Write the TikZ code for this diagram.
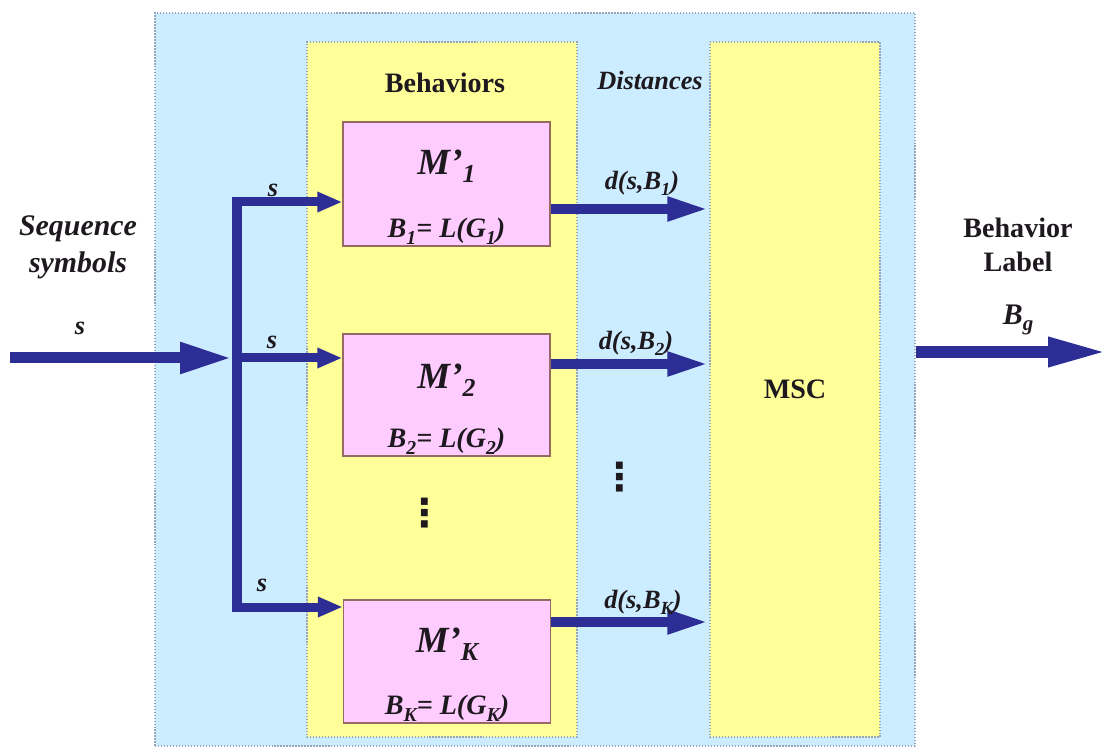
\documentclass[tikz,border=0pt]{standalone}
\usepackage{fontspec}
\setmainfont{Liberation Serif}
\newfontfamily\symfont{DejaVu Sans}
\usetikzlibrary{arrows.meta, positioning, calc}
\usepackage{xcolor}

\definecolor{sysblue}{RGB}{204,236,255}
\definecolor{behyellow}{RGB}{255,255,153}
\definecolor{modpink}{RGB}{255,204,255}
\definecolor{flowblue}{RGB}{45,45,150}
\definecolor{edgegray}{RGB}{150,165,185}
\definecolor{pinkedge}{RGB}{150,105,100}
\definecolor{ink}{RGB}{30,25,30}
\newcommand{\dn}[1]{\raisebox{-0.5ex}{\scalebox{0.7}{#1}}}

\begin{document}
\begin{tikzpicture}[
  x=0.2mm, y=-0.2mm,
  panel/.style={rectangle, draw=edgegray, densely dotted, line width=0.7pt, inner sep=0pt},
  modbox/.style={rectangle, draw=pinkedge, fill=modpink, line width=0.8pt,
    minimum width=41.4mm, inner sep=0pt},
  modname/.style={anchor=base, text=ink, font=\fontsize{21}{21}\selectfont\bfseries\itshape},
  modlang/.style={anchor=base, text=ink, font=\fontsize{16}{16}\selectfont\bfseries\itshape},
  head/.style={text=ink, align=center, font=\fontsize{16}{19.5}\selectfont\bfseries},
  tag/.style={text=ink, font=\fontsize{15}{15}\selectfont\bfseries\itshape},
  more/.style={text=ink, inner sep=0pt, font=\fontsize{22}{22}\selectfont\symfont\bfseries},
  bus/.style={draw=flowblue, line width=2mm, line cap=rect},
  feed/.style={draw=flowblue, line width=2.2mm, -{Triangle[length=10.4mm, width=5.8mm]}},
  branch/.style={draw=flowblue, line width=1.8mm, -{Triangle[length=5mm, width=3.8mm]}},
  dist/.style={draw=flowblue, line width=2mm, -{Triangle[length=8.4mm, width=4.4mm]}},
  result/.style={draw=flowblue, line width=2.4mm, -{Triangle[length=12mm, width=5.4mm]}}
]
  \useasboundingbox (0,0) rectangle (1110,752);

  % panels
  \node[panel, fill=sysblue, minimum width=152mm, minimum height=146.6mm] (sys) at (535,379.5) {};
  \node[panel, fill=behyellow, minimum width=54mm, minimum height=139mm] (beh) at (442,389.5) {};
  \node[panel, fill=behyellow, minimum width=34mm, minimum height=139mm,
    font=\fontsize{16}{16}\selectfont\bfseries, text=ink] (msc) at (795,389.5) {\raisebox{-1.4ex}{MSC}};

  % behavior models
  \node[modbox, minimum height=24.8mm] (m1) at (446.5,184) {};
  \node[modbox, minimum height=24.4mm] (m2) at (446.5,395) {};
  \node[modbox, minimum height=24.6mm] (mK) at (447,661.5) {};
  \node[modname] at ($(m1.north)+(0,53)$) {M’\dn{1}};
  \node[modlang] at ($(m1.south)+(0,-9)$) {B\dn{1}= L(G\dn{1})};
  \node[modname] at ($(m2.north)+(0,55)$) {M’\dn{2}};
  \node[modlang] at ($(m2.south)+(0,-9)$) {B\dn{2}= L(G\dn{2})};
  \node[modname] at ($(mK.north)+(0,53)$) {M’\dn{K}};
  \node[modlang] at ($(mK.south)+(0,-9)$) {B\dn{K}= L(G\dn{K})};

  % headers
  \node[head] (behlbl) at (445,83) {Behaviors};
  \node[head, font=\fontsize{15}{15}\selectfont\bfseries\itshape] (distlbl) at (650,80) {Distances};
  \node[head, font=\fontsize{17}{21}\selectfont\bfseries\itshape] (seqlbl) at (78,247) {Sequence\\symbols};
  \node[head] (outlbl) at (1018,245) {Behavior\\Label};

  % input and split
  \coordinate (src) at (10,358);
  \coordinate (jn) at (232,358);
  \coordinate (b1) at (237,202);
  \coordinate (b2) at (237,358);
  \coordinate (bK) at (237,607);
  \draw[feed] (src) -- (jn);
  \draw[bus] (b1) -- (bK);
  \draw[branch] (b1) -- (b1 -| m1.west);
  \draw[branch] (b2) -- (b2 -| m2.west);
  \draw[branch] (bK) -- (bK -| mK.west);
  \node[tag] at (80,328) {s};
  \node[tag] at (273,190) {s};
  \node[tag] at (272,342) {s};
  \node[tag] at (262,585) {s};

  % distances
  \coordinate (d1) at (0,209);
  \coordinate (d2) at (0,364);
  \coordinate (dK) at (0,622);
  \draw[dist] (d1 -| m1.east) -- (d1 -| msc.west);
  \draw[dist] (d2 -| m2.east) -- (d2 -| msc.west);
  \draw[dist] (dK -| mK.east) -- (dK -| msc.west);
  \node[tag] at (642,183) {d(s,B\dn{1})};
  \node[tag] at (636,343) {d(s,B\dn{2})};
  \node[tag] at (643,602) {d(s,B\dn{K})};

  % output
  \coordinate (out) at (1108,352);
  \draw[result] (sys.east |- out) -- (out);
  \node[tag, font=\fontsize{17}{17}\selectfont\bfseries\itshape] at (1018,320) {B\dn{g}};

  % ellipses
  \node[more] at (425,513) {⋮};
  \node[more] at (620,477) {⋮};
\end{tikzpicture}
\end{document}
